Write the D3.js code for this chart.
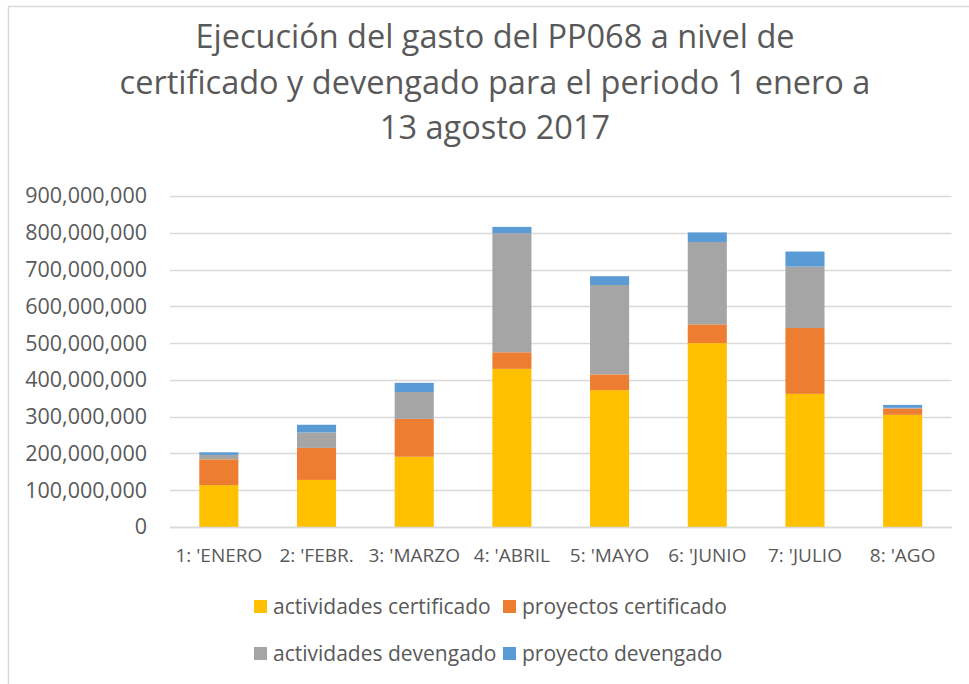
<!DOCTYPE html>
<html>
<head>
<meta charset="utf-8">
<script src="https://cdn.jsdelivr.net/npm/d3@7"></script>
<style>
  body { margin: 0; background: #fff; }
  text { font-family: "Open Sans", "Noto Sans", sans-serif; fill: #595959; }
</style>
</head>
<body>
<div id="chart"></div>
<script>
// data (values in soles)
const months = ["1: 'ENERO", "2: 'FEBR.", "3: 'MARZO", "4: 'ABRIL", "5: 'MAYO", "6: 'JUNIO", "7: 'JULIO", "8: 'AGO"];
const actividadesCert = [114e6, 128e6, 191e6, 430e6, 372e6, 500e6, 362e6, 305e6];
const proyectosCert   = [70e6, 87e6, 103e6, 45e6, 43e6, 51e6, 179e6, 17e6];
const actividadesDev  = [12e6, 42e6, 73e6, 324e6, 243e6, 224e6, 167e6, 2e6];
const proyectoDev     = [7e6, 21e6, 25e6, 17e6, 24e6, 26e6, 41e6, 8e6];
const seriesNames = ["actividades certificado", "proyectos certificado", "actividades devengado", "proyecto devengado"];
const yTicks = [0, 1e8, 2e8, 3e8, 4e8, 5e8, 6e8, 7e8, 8e8, 9e8];
const titleLines = ["Ejecución del gasto del PP068 a nivel de", "certificado y devengado para el periodo 1 enero a", "13 agosto 2017"];

const W = 969, H = 684;
const colors = ["#FFC000", "#ED7D31", "#A5A5A5", "#5B9BD5"];

const svg = d3.select("#chart").append("svg")
  .attr("width", W).attr("height", H);

// chart border
svg.append("rect")
  .attr("x", 8.5).attr("y", 6.5)
  .attr("width", 1000).attr("height", 700)
  .attr("fill", "none").attr("stroke", "#D9D9D9").attr("stroke-width", 1.5);

// title
svg.append("g").selectAll("text")
  .data(titleLines)
  .join("text")
    .attr("x", 495)
    .attr("y", (d, i) => 48 + i * 45.5)
    .attr("text-anchor", "middle")
    .style("font-size", "32.5px")
    .text(d => d);

const x = d3.scaleBand()
  .domain(months)
  .range([170, 951.5])
  .paddingInner(0.6)
  .paddingOuter(0.3);

const y = d3.scaleLinear()
  .domain([0, 9e8])
  .range([527, 196]);

// gridlines
svg.append("g").selectAll("line")
  .data(yTicks)
  .join("line")
    .attr("x1", 170).attr("x2", 951.5)
    .attr("y1", d => Math.round(y(d)) + 0.5)
    .attr("y2", d => Math.round(y(d)) + 0.5)
    .attr("stroke", "#D9D9D9").attr("stroke-width", 1.3);

// y axis labels
const yAxis = svg.append("g")
  .attr("transform", "translate(160,0)")
  .call(d3.axisLeft(y).tickValues(yTicks).tickSize(0).tickPadding(13)
    .tickFormat(d => d === 0 ? "0" : d3.format(",")(d)));
yAxis.select(".domain").remove();
yAxis.selectAll("text")
  .style("font-family", "'Open Sans', sans-serif")
  .style("font-size", "21.5px")
  .attr("fill", "#595959");

// stacked bars
const table = months.map((m, i) => ({
  month: m,
  s0: actividadesCert[i], s1: proyectosCert[i], s2: actividadesDev[i], s3: proyectoDev[i]
}));
const stacked = d3.stack().keys(["s0", "s1", "s2", "s3"])(table);

svg.append("g").selectAll("g")
  .data(stacked)
  .join("g")
    .attr("fill", (d, i) => colors[i])
  .selectAll("rect")
  .data(d => d)
  .join("rect")
    .attr("x", d => x(d.data.month))
    .attr("width", x.bandwidth())
    .attr("y", d => y(d[1]))
    .attr("height", d => y(d[0]) - y(d[1]));

// x axis line
svg.append("line")
  .attr("x1", 170).attr("x2", 951.5)
  .attr("y1", 527.5).attr("y2", 527.5)
  .attr("stroke", "#D9D9D9").attr("stroke-width", 1.3);

// x axis labels
svg.append("g").selectAll("text")
  .data(months)
  .join("text")
    .attr("x", d => x(d) + x.bandwidth() / 2)
    .attr("y", 562)
    .attr("text-anchor", "middle")
    .style("font-size", "19px")
    .text(d => d);

// legend
const legendPos = [[254, 600], [503, 600], [254, 647], [503, 647]];
const legend = svg.append("g").selectAll("g")
  .data(seriesNames)
  .join("g")
    .attr("transform", (d, i) => `translate(${legendPos[i][0]},${legendPos[i][1]})`);
legend.append("rect")
  .attr("width", 13).attr("height", 13)
  .attr("fill", (d, i) => colors[i]);
legend.append("text")
  .attr("x", 19).attr("y", 13.5)
  .style("font-size", "21px")
  .text(d => d);
</script>
</body>
</html>
